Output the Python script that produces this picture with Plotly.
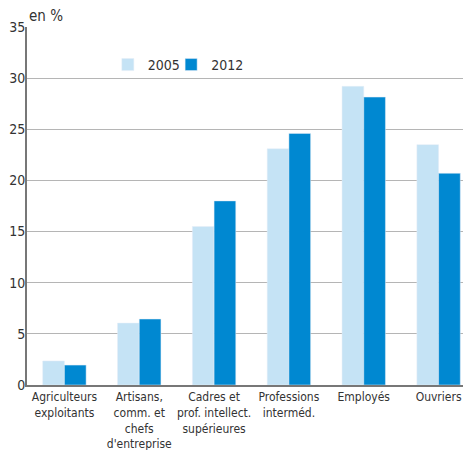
import plotly.graph_objects as go

categories = ["Agriculteurs<br>exploitants", "Artisans,<br>comm. et<br>chefs<br>d'entreprise",
              "Cadres et<br>prof. intellect.<br>supérieures", "Professions<br>interméd.",
              "Employés", "Ouvriers"]
v2005 = [2.35, 6.05, 15.5, 23.1, 29.2, 23.5]
v2012 = [1.95, 6.45, 18.0, 24.6, 28.15, 20.7]

FONT = "DejaVu Sans Condensed, Liberation Sans Narrow, Liberation Sans, sans-serif"

fig = go.Figure()
fig.add_bar(x=categories, y=v2005, name="2005", marker_color="#c5e3f5", legend="legend",
            showlegend=True)
fig.add_bar(x=categories, y=v2012, name="2012", marker_color="#0088d1", legend="legend2",
            showlegend=True)

leg = dict(orientation="h", y=0.894, xanchor="left", yanchor="middle",
           font=dict(size=14, color="#333"), itemwidth=30,
           bgcolor="rgba(0,0,0,0)")

fig.update_layout(
    width=468, height=442,
    margin=dict(l=19, r=0, t=19, b=65, autoexpand=False),
    plot_bgcolor="white", paper_bgcolor="white",
    showlegend=True,
    barmode="group", bargap=0.42, bargroupgap=0,
    font=dict(family=FONT, size=12, color="#333"),
    legend=dict(leg, x=0.180),
    legend2=dict(leg, x=0.321),
    xaxis=dict(showline=True, linecolor="#777", linewidth=2, ticks="", showgrid=False,
               tickangle=0, tickfont=dict(size=12, color="#333")),
    yaxis=dict(range=[0, 35], dtick=5, showline=True, linecolor="#777", linewidth=2,
               showgrid=True, gridcolor="#b5b5b5", gridwidth=1, zeroline=False,
               ticks="", ticklabelstandoff=-3, tickfont=dict(size=14, color="#333")),
    annotations=[dict(text="en %", xref="paper", yref="paper", x=0.0, y=1.0,
                      xanchor="left", yanchor="bottom", showarrow=False,
                      font=dict(size=15, color="#333"), yshift=0)],
)
fig.write_html("out.html")
